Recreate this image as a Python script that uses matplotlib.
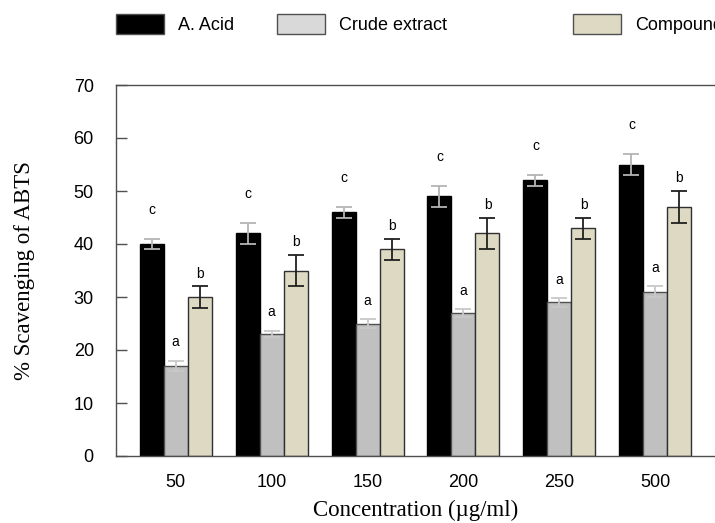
#ABTS scavenging bar chart with error bars and significance letters

#import the libraries
import numpy as np
import matplotlib
matplotlib.use('Agg')
import matplotlib.pyplot as plt

#concentrations on the x axis
concentrations = ['50', '100', '150', '200', '250', '500']

#mean values
acid = [40, 42, 46, 49, 52, 55]
crude = [17, 23, 25, 27, 29, 31]
compound = [30, 35, 39, 42, 43, 47]

#standard errors
acid_err = [1, 2, 1, 2, 1, 2]
crude_err = [1, 0.6, 0.8, 0.7, 0.8, 1]
compound_err = [2, 3, 2, 3, 2, 3]

#significance letters
acid_letters = ['c', 'c', 'c', 'c', 'c', 'c']
crude_letters = ['a', 'a', 'a', 'a', 'a', 'a']
compound_letters = ['b', 'b', 'b', 'b', 'b', 'b']

series_names = ['A. Acid', 'Crude extract', 'Compound']

plt.rcParams['font.family'] = ['Liberation Sans', 'DejaVu Sans']

fig = plt.figure(figsize=(7.15, 5.23), dpi=100)
ax = fig.add_axes([116/715, 67/523, 1 - 116/715, 371/523])

x = np.arange(len(concentrations))
w = 0.25

#one entry per series: values, errors, letters, fill, edge, errorbar colour, letter offset
series = [
    (acid, acid_err, acid_letters, '#000000', '#000000', '#b4b4b4', 5.4),
    (crude, crude_err, crude_letters, '#c0c0c0', '#505050', '#c8c8c8', 3.5),
    (compound, compound_err, compound_letters, '#ddd9c3', '#303030', '#202020', 2.4),
]
legend_fill = ['#000000', '#d9d9d9', '#ddd9c3']

handles = []
for i, (vals, errs, letters, fc, ec, errc, off) in enumerate(series):
    pos = x + (i - 1) * w
    b = ax.bar(pos, vals, w, color=fc, edgecolor=ec, linewidth=1.0,
               label=series_names[i], zorder=2)
    handles.append(b)
    ax.errorbar(pos, vals, yerr=errs, fmt='none', ecolor=errc,
                elinewidth=1.3, capsize=6, capthick=1.3, zorder=3)
    for p, v, e, t in zip(pos, vals, errs, letters):
        ax.text(p, v + e + off, t, ha='center', va='center', fontsize=10)

#axes limits and ticks
ax.set_xlim(-0.62, len(concentrations) - 0.38)
ax.set_ylim(0, 70)
ax.set_yticks(np.arange(0, 71, 10))
ax.set_xticks(x)
ax.set_xticklabels(concentrations)
ax.tick_params(axis='y', direction='in', length=8, width=1, color='#505050',
               labelsize=13, pad=16)
ax.tick_params(axis='x', length=0, labelsize=13, pad=13)

for s in ['left', 'bottom', 'top']:
    ax.spines[s].set_color('#505050')
    ax.spines[s].set_linewidth(1.0)
ax.spines['right'].set_visible(False)

ax.set_xlabel('Concentration (\u00b5g/ml)', family=['Liberation Serif'],
              fontsize=16.5, labelpad=6)
ax.set_ylabel('% Scavenging of ABTS', family=['Liberation Serif'],
              fontsize=16.5, labelpad=28)

#legend entries spread along the top like the original
legend_x = [116/715, 277/715, 573/715]
for h, name, lx, lf in zip(handles, series_names, legend_x, legend_fill):
    leg = fig.legend([h], [name], loc='center left',
                     bbox_to_anchor=(lx, 1 - 24/523), frameon=False,
                     fontsize=13, handlelength=2.65, handleheight=1.3,
                     handletextpad=0.8, borderpad=0, borderaxespad=0)
    leg.legend_handles[0].set_facecolor(lf)
    leg.legend_handles[0].set_edgecolor('#505050')

fig.savefig('out.png', dpi=100)
